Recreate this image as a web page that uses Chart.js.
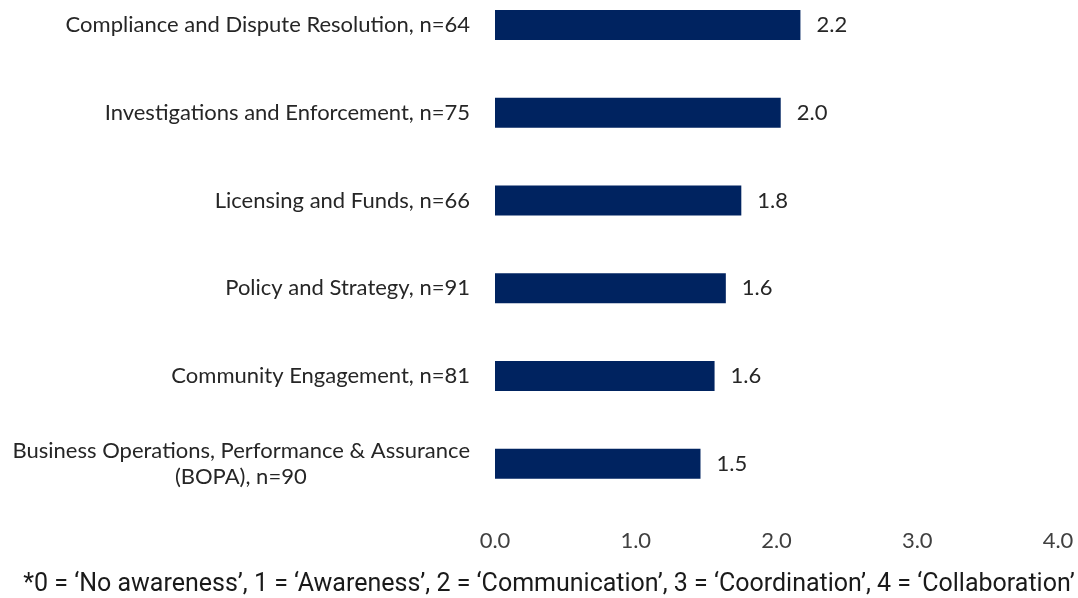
<!DOCTYPE html>
<html lang="en">
<head>
    <meta charset="UTF-8">
    <title>Awareness by division</title>
    <script src="https://cdn.jsdelivr.net/npm/chart.js@4.4.1/dist/chart.umd.min.js"></script>
    <style>
        html, body { margin: 0; padding: 0; background: #fff; overflow: hidden; }
        .grafico { position: absolute; left: 0; top: -19px; width: 1078px; height: 593px; }
        .nota {
            position: absolute; left: 0; top: 568px; width: 1098px;
            text-align: center; white-space: nowrap;
            font-family: Roboto, sans-serif; font-size: 25px; line-height: 30px; color: #1a1a1a;
        }
    </style>
</head>
<body>
    <div class="grafico">
        <canvas id="grafico"></canvas>
    </div>
    <div class="nota" id="nota"></div>

    <script>
        const categorias = [
            'Compliance and Dispute Resolution, n=64',
            'Investigations and Enforcement, n=75',
            'Licensing and Funds, n=66',
            'Policy and Strategy, n=91',
            'Community Engagement, n=81',
            ['Business Operations, Performance & Assurance', '(BOPA), n=90' + ' '.repeat(29)]
        ]
        const valores = [2.17, 2.03, 1.75, 1.64, 1.56, 1.46]
        const ticksX = [0, 1, 2, 3, 4]
        const nota = '*0 = \u2018No awareness\u2019, 1 = \u2018Awareness\u2019, 2 = \u2018Communication\u2019, 3 = \u2018Coordination\u2019, 4 = \u2018Collaboration\u2019'

        document.getElementById('nota').textContent = nota

        const fonteRotulo = 'Lato, "Liberation Sans", sans-serif'

        // escreve o valor (1 casa) no fim de cada barra
        const rotuloValor = {
            id: 'rotuloValor',
            afterDatasetsDraw(chart) {
                const ctx = chart.ctx
                const meta = chart.getDatasetMeta(0)
                ctx.save()
                ctx.font = '22px ' + fonteRotulo
                ctx.fillStyle = '#262626'
                ctx.textAlign = 'left'
                ctx.textBaseline = 'middle'
                meta.data.forEach(function(bar, i) {
                    ctx.fillText(valores[i].toFixed(1), bar.x + 16, bar.y)
                })
                ctx.restore()
            }
        }

        new Chart(document.getElementById('grafico'), {
            type: 'bar',
            data: {
                labels: categorias,
                datasets: [{
                    data: valores,
                    backgroundColor: '#002360',
                    borderWidth: 0,
                    categoryPercentage: 1,
                    barPercentage: 0.342
                }]
            },
            options: {
                indexAxis: 'y',
                responsive: true,
                maintainAspectRatio: false,
                animation: false,
                layout: { padding: 0 },
                plugins: {
                    legend: { display: false },
                    tooltip: { enabled: false },
                    title: { display: false }
                },
                scales: {
                    x: {
                        min: 0,
                        max: 4,
                        grid: { display: false, drawTicks: false },
                        border: { display: false },
                        afterBuildTicks(scale) {
                            scale.ticks = ticksX.map(v => ({ value: v }))
                        },
                        afterFit(scale) {
                            scale.paddingLeft = 0
                            scale.paddingRight = 20
                        },
                        ticks: {
                            padding: 20,
                            color: '#404040',
                            font: { family: fonteRotulo, size: 22 },
                            maxRotation: 0,
                            callback: v => Number(v).toFixed(1)
                        }
                    },
                    y: {
                        grid: { display: false, drawTicks: false },
                        border: { display: false },
                        afterFit(scale) {
                            scale.width = 495
                            scale.paddingTop = 0
                            scale.paddingBottom = 0
                        },
                        ticks: {
                            padding: 25,
                            color: '#262626',
                            font: { family: fonteRotulo, size: 22 },
                            autoSkip: false
                        }
                    }
                }
            },
            plugins: [rotuloValor]
        })
    </script>
</body>
</html>
